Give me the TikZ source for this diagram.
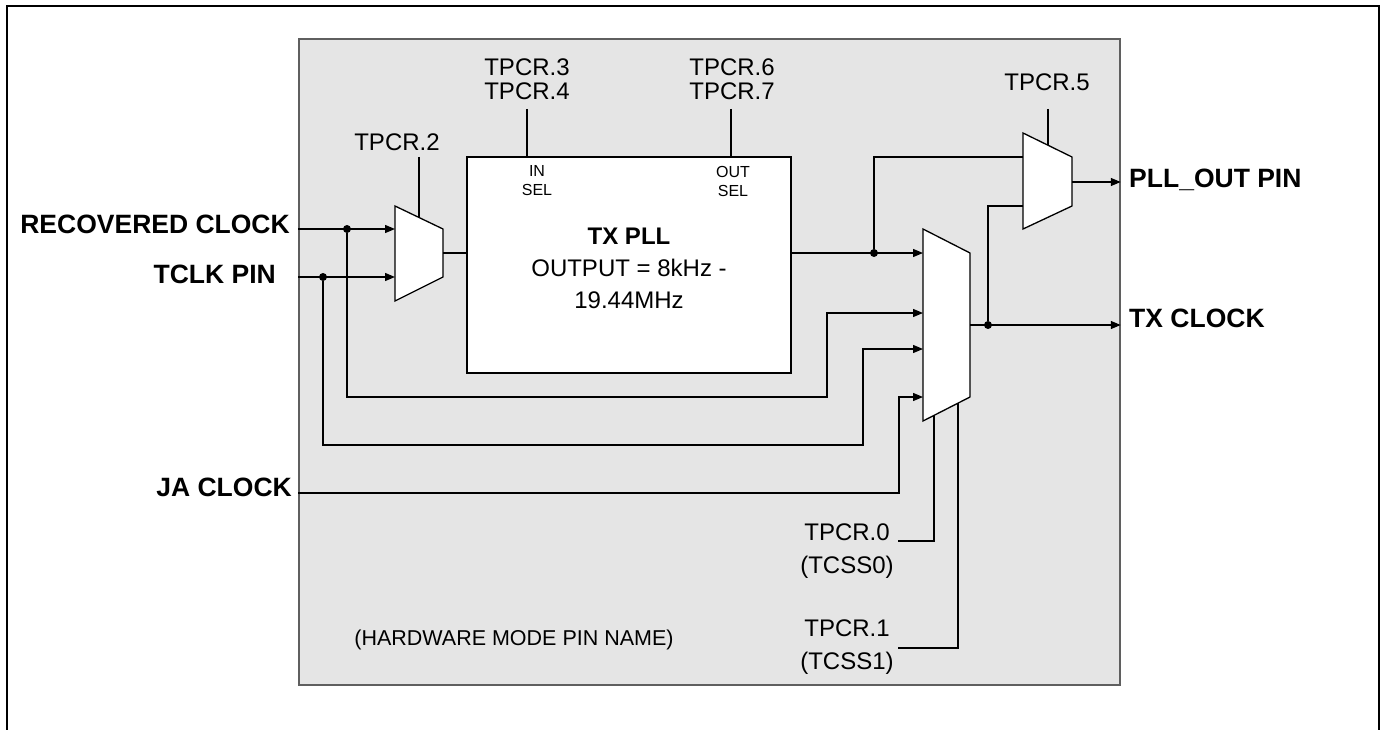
\documentclass[tikz,border=0pt]{standalone}
\usepackage{fontspec}
\setmainfont{Liberation Sans}
\usetikzlibrary{arrows.meta}

\definecolor{boardgray}{RGB}{229,229,229}
\definecolor{edgegray}{RGB}{95,95,95}

\tikzset{
  wire/.style={line width=1.3pt},
  sig/.style={wire, -{Triangle[length=10pt,width=8pt]}},
  jdot/.style={circle, fill, inner sep=0pt, minimum size=8pt},
  muxbody/.style={draw, fill=white, line width=1.3pt},
  pinname/.style={font=\fontsize{26.5}{29}\selectfont\bfseries, inner sep=0pt},
  regname/.style={font=\fontsize{24}{24}\selectfont, align=center, inner sep=0pt},
  selname/.style={font=\fontsize{16}{19}\selectfont, align=center, inner sep=0pt},
}

\begin{document}
\begin{tikzpicture}[x=1pt, y=-1pt]
    \useasboundingbox (0,0) rectangle (1380,730);

    % frame and device area
    \draw[line width=2pt] (7,730) -- (7,6) -- (1379,6) -- (1379,730);
    \node[draw=edgegray, line width=1.5pt, fill=boardgray, inner sep=0pt,
          minimum width=821pt, minimum height=646pt] (board) at (709.5,362) {};

    % TX PLL block
    \node[draw, fill=white, line width=1.3pt, inner sep=0pt,
          minimum width=324pt, minimum height=216pt] (pll) at (629,265) {};
    \node[font=\fontsize{24}{32}\selectfont, align=center] (plltxt) at (629,268)
        {\textbf{TX PLL}\\OUTPUT = 8kHz -\\19.44MHz};
    \node[selname] (insel) at (537,181) {IN\\SEL};
    \node[selname] (outsel) at (733,181) {OUT\\SEL};
    \node[regname] (inreg) at (527,79) {TPCR.3\\TPCR.4};
    \node[regname] (outreg) at (732,79) {TPCR.6\\TPCR.7};
    \coordinate (inreg-pin) at (527,109);
    \coordinate (outreg-pin) at (731,109);
    \draw[wire] (inreg-pin) -- (inreg-pin |- pll.north);
    \draw[wire] (outreg-pin) -- (outreg-pin |- pll.north);

    % input mux
    \draw[muxbody] (395,206) -- (443,229) -- (443,277) -- (395,301) -- cycle;
    \coordinate (mA-in1) at (395,229);
    \coordinate (mA-in2) at (395,277);
    \coordinate (mA-out) at (443,253);
    \coordinate (mA-sel) at (419,217.5);
    \node[regname] (regA) at (397,142) {TPCR.2};
    \draw[wire] (419,157) coordinate (regA-pin) -- (mA-sel);

    % clock select mux
    \draw[muxbody] (923,229) -- (970,253) -- (970,397) -- (923,421) -- cycle;
    \coordinate (mB-in1) at (923,253);
    \coordinate (mB-in2) at (923,313);
    \coordinate (mB-in3) at (923,349);
    \coordinate (mB-in4) at (923,397);
    \coordinate (mB-out) at (970,325);
    \coordinate (mB-sel0) at (934,415.4);
    \coordinate (mB-sel1) at (958,403.1);

    % pll out mux
    \draw[muxbody] (1023,133) -- (1072,157) -- (1072,206) -- (1023,229) -- cycle;
    \coordinate (mC-in1) at (1023,157);
    \coordinate (mC-in2) at (1023,206);
    \coordinate (mC-out) at (1072,182);
    \coordinate (mC-sel) at (1048,145.2);
    \node[regname] (regC) at (1047,82) {TPCR.5};
    \draw[wire] (1048,109) coordinate (regC-pin) -- (mC-sel);

    % pin names
    \node[pinname, anchor=east] (recclk) at (290,224) {RECOVERED CLOCK};
    \node[pinname, anchor=east] (tclkpin) at (276,274) {TCLK PIN};
    \node[pinname, anchor=east] (jaclk) at (292,487) {JA CLOCK};
    \node[pinname, anchor=west] (plloutpin) at (1129,180) {PLL\_OUT PIN};
    \node[pinname, anchor=west] (txclk) at (1129,318) {TX CLOCK};

    % inputs
    \draw[sig] (board.west |- mA-in1) -- (mA-in1);
    \draw[sig] (board.west |- mA-in2) -- (mA-in2);
    \node[jdot] (jrec) at (347,229) {};
    \node[jdot] (jtclk) at (323,277) {};
    \draw[sig] (jrec) -- (347,397) -- (827,397) -- (827,313) -- (mB-in2);
    \draw[sig] (jtclk) -- (323,445) -- (863,445) -- (863,349) -- (mB-in3);
    \draw[sig] (board.west |- 0,493) -- (899,493) -- (899,397) -- (mB-in4);

    % pll path
    \draw[wire] (mA-out) -- (pll.west |- mA-out);
    \node[jdot] (jpll) at (874,253) {};
    \draw[sig] (pll.east |- mB-in1) -- (mB-in1);
    \draw[wire] (jpll) -- (874,157) -- (mC-in1);
    \draw[sig] (mC-out) -- (board.east |- mC-out);

    % tx clock
    \node[jdot] (jtx) at (988,325) {};
    \draw[sig] (mB-out) -- (board.east |- mB-out);
    \draw[wire] (jtx) -- (988,206) -- (mC-in2);

    % select lines
    \node[regname] (regB0) at (847,551) {TPCR.0\\[9pt](TCSS0)};
    \node[regname] (regB1) at (847,647) {TPCR.1\\[9pt](TCSS1)};
    \draw[wire] (mB-sel0) -- (934,541) -- (898,541);
    \draw[wire] (mB-sel1) -- (958,648) -- (898,648);

    \node[font=\fontsize{21.5}{24}\selectfont] (hwnote) at (514,640) {(HARDWARE MODE PIN NAME)};
\end{tikzpicture}
\end{document}
